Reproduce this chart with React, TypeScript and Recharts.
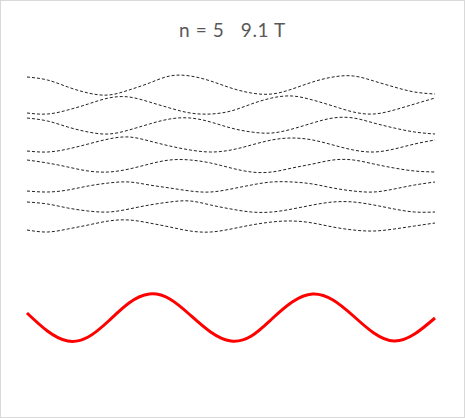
import React from "react";
import { ComposedChart, Line, XAxis, YAxis } from "recharts";

// guiding-centre position (arbitrary units) of each sample
const positions = [0, 5, 10, 15, 20, 25, 30, 35, 40, 45, 50, 55, 60, 65, 70, 75, 80, 85, 90, 95, 100];

// Landau-level branches (energy, arbitrary units), top to bottom
const level1 = [28.3, 28.0, 27.3, 26.7, 26.5, 27.0, 27.7, 28.4, 28.4, 27.9, 27.2, 26.7, 26.6, 27.1, 27.8, 28.3, 28.4, 27.9, 27.3, 26.8, 26.6];
const level2 = [24.7, 24.6, 25.0, 25.6, 26.2, 26.3, 25.8, 25.2, 24.7, 24.6, 24.9, 25.6, 26.2, 26.4, 26.0, 25.4, 24.8, 24.6, 25.0, 25.6, 26.2];
const level3 = [24.2, 23.9, 23.3, 22.8, 22.6, 23.0, 23.6, 24.1, 24.2, 23.8, 23.2, 22.8, 22.7, 23.1, 23.7, 24.2, 24.2, 23.7, 23.2, 22.8, 22.6];
const level4 = [20.9, 20.8, 21.1, 21.6, 22.1, 22.3, 21.9, 21.4, 21.0, 20.8, 21.0, 21.5, 22.0, 22.2, 22.0, 21.5, 21.0, 20.8, 21.1, 21.6, 22.0];
const level5 = [20.0, 19.7, 19.3, 18.9, 18.8, 19.1, 19.6, 20.0, 20.0, 19.7, 19.2, 18.8, 18.8, 19.2, 19.6, 20.0, 20.0, 19.6, 19.2, 18.9, 18.8];
const level6 = [16.9, 16.8, 17.0, 17.4, 17.7, 17.8, 17.5, 17.2, 16.9, 16.8, 17.1, 17.5, 17.8, 17.8, 17.6, 17.2, 16.9, 16.8, 17.1, 17.5, 17.8];
const level7 = [15.8, 15.6, 15.2, 14.9, 14.8, 15.1, 15.5, 15.8, 15.9, 15.5, 15.1, 14.8, 14.8, 15.1, 15.5, 15.8, 15.8, 15.5, 15.1, 14.8, 14.8];
const level8 = [13.0, 12.8, 13.1, 13.5, 13.9, 14.0, 13.7, 13.3, 12.9, 12.8, 13.1, 13.5, 13.8, 13.9, 13.7, 13.3, 13.0, 12.9, 13.1, 13.4, 13.7];

// modulation potential
const potential = [4.7, 2.9, 1.9, 2.3, 3.9, 5.7, 6.6, 6.1, 4.5, 2.8, 1.9, 2.4, 4.1, 5.8, 6.6, 6.0, 4.4, 2.7, 1.9, 2.6, 4.2];

const titleText = "n = 5   9.1 T";

const levels = [level1, level2, level3, level4, level5, level6, level7, level8];

const data = positions.map((x, i) => {
  const row: Record<string, number> = { x, pot: potential[i] };
  levels.forEach((lv, k) => {
    row["l" + (k + 1)] = lv[i];
  });
  return row;
});

export default function App() {
  return (
    <div
      style={{
        position: "absolute",
        left: 0,
        top: 0,
        width: 465,
        height: 418,
        boxSizing: "border-box",
        border: "1px solid #d9d9d9",
        background: "#fff",
      }}
    >
      <svg
        width={465}
        height={418}
        style={{ position: "absolute", left: -1, top: -1, pointerEvents: "none" }}
      >
        <text
          x={232.5}
          y={37}
          textAnchor="middle"
          fill="#595959"
          style={{ fontFamily: "Lato, 'Liberation Sans', sans-serif", fontSize: 19, letterSpacing: 0.6, whiteSpace: "pre" }}
        >
          {titleText}
        </text>
      </svg>
      <div style={{ position: "absolute", left: -1, top: -1 }}>
        <ComposedChart
          width={465}
          height={418}
          data={data}
          margin={{ top: 60, right: 30, bottom: 58, left: 27 }}
        >
          <XAxis dataKey="x" type="number" domain={[0, 100]} hide />
          <YAxis type="number" domain={[0, 30]} hide />
          {levels.map((_, k) => (
            <Line
              key={k}
              dataKey={"l" + (k + 1)}
              type="natural"
              stroke="#222"
              strokeWidth={1}
              strokeDasharray="3 2"
              dot={false}
              isAnimationActive={false}
            />
          ))}
          <Line
            dataKey="pot"
            type="natural"
            stroke="#ff0000"
            strokeWidth={3}
            dot={false}
            isAnimationActive={false}
          />
        </ComposedChart>
      </div>
    </div>
  );
}
